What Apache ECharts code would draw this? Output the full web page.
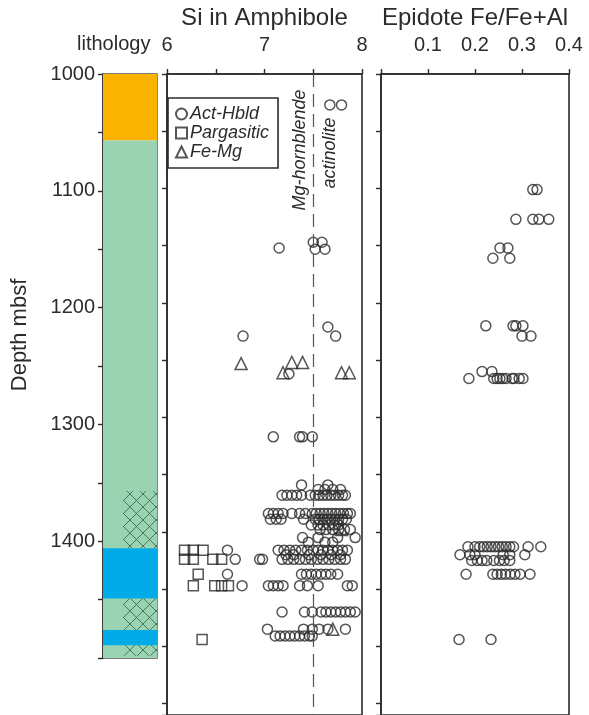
<!DOCTYPE html>
<html>
<head>
<meta charset="utf-8">
<script src="https://cdn.jsdelivr.net/npm/echarts@6/dist/echarts.min.js"></script>
<style>
  html, body { margin: 0; padding: 0; background: #fff; }
  #chart { width: 589px; height: 715px; }
</style>
</head>
<body>
<div id="chart"></div>
<script>
// ---- data ----
// lithology units (depth mbsf)
var lithTop  = [1000, 1057, 1357, 1449, 1406, 1476];
var lithBase = [1057, 1500, 1406, 1498, 1449, 1489];
var lithKind = ['orange', 'green', 'hatch', 'hatch', 'blue', 'blue'];

var depthTicks = [1000, 1100, 1200, 1300, 1400];
var siTicks = [6, 7, 8];
var epTicks = [0.1, 0.2, 0.3, 0.4];

// Si in amphibole [Si, depth]
var actHbld = [
  [7.67, 1027], [7.79, 1027],
  [7.15, 1152], [7.50, 1147], [7.59, 1147], [7.52, 1153], [7.62, 1153],
  [7.65, 1221], [6.78, 1229], [7.73, 1229],
  [7.25, 1262],
  [7.09, 1317], [7.36, 1317], [7.39, 1317], [7.49, 1317],
  [7.38, 1359], [7.65, 1359],
  [7.55, 1363], [7.62, 1363], [7.70, 1363], [7.78, 1363],
  [7.18, 1368], [7.23, 1368], [7.28, 1368], [7.33, 1368], [7.38, 1368], [7.47, 1368], [7.52, 1368],
  [7.56, 1368], [7.60, 1368], [7.64, 1368], [7.68, 1368], [7.72, 1368], [7.76, 1368], [7.80, 1368], [7.83, 1368],
  [7.04, 1384], [7.09, 1384], [7.14, 1384], [7.19, 1384], [7.28, 1384], [7.36, 1384], [7.42, 1384], [7.49, 1384],
  [7.53, 1384], [7.57, 1384], [7.61, 1384], [7.65, 1384], [7.69, 1384], [7.73, 1384], [7.77, 1384], [7.81, 1384],
  [7.85, 1384], [7.88, 1384],
  [7.06, 1389], [7.12, 1389], [7.17, 1389], [7.40, 1389], [7.52, 1389], [7.56, 1389], [7.60, 1389], [7.64, 1389],
  [7.68, 1389], [7.72, 1389], [7.76, 1389], [7.80, 1389], [7.84, 1389],
  [7.48, 1394], [7.55, 1394], [7.60, 1394], [7.66, 1394], [7.71, 1394], [7.76, 1394],
  [7.57, 1398], [7.63, 1398], [7.70, 1398], [7.76, 1398], [7.82, 1398], [7.88, 1398],
  [7.39, 1405], [7.55, 1405], [7.75, 1405], [7.93, 1405],
  [7.45, 1409], [7.62, 1409], [7.70, 1409],
  [6.62, 1416], [7.14, 1416], [7.20, 1416], [7.26, 1416], [7.32, 1416], [7.38, 1416], [7.44, 1416], [7.50, 1416],
  [7.55, 1416], [7.60, 1416], [7.65, 1416], [7.70, 1416], [7.75, 1416], [7.80, 1416], [7.85, 1416],
  [7.22, 1420], [7.30, 1420], [7.46, 1420], [7.58, 1420], [7.68, 1420], [7.78, 1420],
  [6.70, 1424], [6.95, 1424], [6.98, 1424], [7.18, 1424], [7.24, 1424], [7.30, 1424], [7.36, 1424], [7.42, 1424],
  [7.48, 1424], [7.54, 1424], [7.60, 1424], [7.66, 1424], [7.72, 1424], [7.78, 1424], [7.83, 1424],
  [6.62, 1437], [7.38, 1437], [7.43, 1437], [7.48, 1437], [7.53, 1437], [7.58, 1437], [7.63, 1437], [7.68, 1437], [7.75, 1437],
  [6.77, 1447], [7.04, 1447], [7.09, 1447], [7.14, 1447], [7.19, 1447], [7.36, 1447], [7.44, 1447], [7.55, 1447],
  [7.85, 1447], [7.90, 1447],
  [7.18, 1470], [7.41, 1470], [7.49, 1470], [7.58, 1470], [7.63, 1470], [7.68, 1470], [7.73, 1470], [7.78, 1470],
  [7.83, 1470], [7.88, 1470], [7.93, 1470],
  [7.03, 1485], [7.40, 1485], [7.49, 1485], [7.56, 1485], [7.65, 1485], [7.83, 1485],
  [7.11, 1491], [7.16, 1491], [7.21, 1491], [7.26, 1491], [7.31, 1491], [7.36, 1491], [7.41, 1491], [7.46, 1491], [7.49, 1491]
];
var pargasitic = [
  [6.18, 1416], [6.27, 1416], [6.37, 1416],
  [6.18, 1424], [6.27, 1424], [6.47, 1424], [6.56, 1424],
  [6.32, 1437],
  [6.27, 1447], [6.49, 1447], [6.56, 1447], [6.63, 1447],
  [6.36, 1494]
];
var feMg = [
  [6.76, 1253], [7.28, 1252], [7.39, 1252], [7.19, 1261], [7.79, 1261], [7.87, 1261],
  [7.79, 1398], [7.70, 1485]
];

// Epidote Fe/Fe+Al [ratio, depth]
var epidote = [
  [0.323, 1101], [0.332, 1101],
  [0.287, 1127], [0.323, 1127], [0.336, 1127], [0.357, 1127],
  [0.253, 1152], [0.270, 1152], [0.238, 1161], [0.274, 1161],
  [0.223, 1220], [0.281, 1220], [0.287, 1220], [0.302, 1220], [0.300, 1229], [0.319, 1229],
  [0.215, 1260], [0.236, 1260],
  [0.187, 1266], [0.240, 1266], [0.247, 1266], [0.253, 1266], [0.259, 1266], [0.266, 1266], [0.279, 1266],
  [0.283, 1266], [0.294, 1266], [0.302, 1266],
  [0.185, 1413], [0.200, 1413], [0.210, 1413], [0.218, 1413], [0.226, 1413], [0.234, 1413], [0.242, 1413],
  [0.250, 1413], [0.258, 1413], [0.266, 1413], [0.274, 1413], [0.282, 1413], [0.313, 1413], [0.340, 1413],
  [0.168, 1420], [0.189, 1420], [0.200, 1420], [0.260, 1420], [0.274, 1420], [0.306, 1420],
  [0.193, 1425], [0.205, 1425], [0.215, 1425], [0.225, 1425], [0.240, 1425], [0.252, 1425], [0.262, 1425], [0.274, 1425],
  [0.181, 1437], [0.238, 1437], [0.247, 1437], [0.256, 1437], [0.265, 1437], [0.275, 1437], [0.285, 1437],
  [0.296, 1437], [0.317, 1437],
  [0.166, 1494], [0.234, 1494]
];

// ---- styles ----
var FONT = 'Liberation Sans, Arial, sans-serif';
var INK = '#2b2b2b';
var lithColor = { orange: '#F9B300', green: '#9AD3B2', blue: '#00ABE8' };

// cross-hatch pattern drawn on a small canvas
function hatchPattern() {
  var c = document.createElement('canvas');
  c.width = 13; c.height = 13;
  var ctx = c.getContext('2d');
  ctx.fillStyle = lithColor.green;
  ctx.fillRect(0, 0, 13, 13);
  ctx.strokeStyle = '#3f6d52';
  ctx.lineWidth = 0.9;
  ctx.beginPath();
  ctx.moveTo(0, 0); ctx.lineTo(13, 13);
  ctx.moveTo(13, 0); ctx.lineTo(0, 13);
  ctx.stroke();
  return { image: c, repeat: 'repeat' };
}
var hatch = hatchPattern();

var lithData = lithTop.map(function (t, i) {
  return [lithKind[i] === 'hatch' ? 0.37 : 0, 1, t, lithBase[i], i];
});

function renderLith(params, api) {
  var kind = lithKind[api.value(4)];
  var p0 = api.coord([api.value(0), api.value(2)]);
  var p1 = api.coord([api.value(1), api.value(3)]);
  return {
    type: 'rect',
    shape: { x: p0[0], y: p0[1], width: p1[0] - p0[0], height: p1[1] - p0[1] },
    style: { fill: kind === 'hatch' ? hatch : lithColor[kind] }
  };
}

var hollow = { color: 'rgba(255,255,255,0)', borderColor: INK, borderWidth: 1.5 };

var depthAxisCommon = {
  type: 'value',
  inverse: true,
  min: 1000,
  interval: 50,
  splitLine: { show: false },
  axisLine: { show: true, lineStyle: { color: INK, width: 1.6 } },
  axisTick: { show: true, length: 5, lineStyle: { color: INK, width: 1.4 } }
};

var topAxisCommon = {
  type: 'value', position: 'top', nameLocation: 'middle', nameGap: 44,
  nameTextStyle: { fontSize: 24, color: INK, fontFamily: FONT },
  splitLine: { show: false },
  axisLine: { lineStyle: { color: INK, width: 1.6 } },
  axisTick: { length: 5, lineStyle: { color: INK, width: 1.4 } }
};

var chart = echarts.init(document.getElementById('chart'), null, { renderer: 'canvas' });

var option = {
  backgroundColor: '#fff',
  animation: false,
  textStyle: { fontFamily: FONT, color: INK },
  grid: [
    { left: 103, top: 74, width: 54, height: 584, show: true, borderColor: '#555', borderWidth: 1.4, backgroundColor: 'transparent' },
    { left: 167, top: 74, width: 195, height: 654, show: true, borderColor: INK, borderWidth: 1.6 },
    { left: 381, top: 74, width: 188, height: 654, show: true, borderColor: INK, borderWidth: 1.6 }
  ],
  xAxis: [
    { gridIndex: 0, type: 'value', min: 0, max: 1, show: false },
    Object.assign({}, topAxisCommon, {
      gridIndex: 1, min: 6, max: 8, interval: 0.5, name: 'Si in Amphibole',
      axisLabel: {
        fontSize: 20, color: INK, margin: 19,
        formatter: function (v) { return siTicks.indexOf(v) >= 0 ? String(v) : ''; }
      }
    }),
    Object.assign({}, topAxisCommon, {
      gridIndex: 2, min: 0, max: 0.4, interval: 0.1, name: 'Epidote Fe/Fe+Al',
      axisLabel: {
        fontSize: 20, color: INK, margin: 19,
        formatter: function (v) {
          var t = Math.round(v * 10) / 10;
          return epTicks.indexOf(t) >= 0 ? t.toFixed(1) : '';
        }
      }
    })
  ],
  yAxis: [
    Object.assign({}, depthAxisCommon, {
      gridIndex: 0, max: 1500,
      axisLabel: {
        fontSize: 20, color: INK, margin: 8,
        formatter: function (v) { return depthTicks.indexOf(v) >= 0 ? String(v) : ''; }
      }
    }),
    Object.assign({}, depthAxisCommon, { gridIndex: 1, max: 1560, axisLabel: { show: false } }),
    Object.assign({}, depthAxisCommon, { gridIndex: 2, max: 1560, axisLabel: { show: false } })
  ],
  legend: {
    data: ['Act-Hbld', 'Pargasitic', 'Fe-Mg'],
    orient: 'vertical',
    left: 168, top: 98,
    padding: [7, 9, 7, 7],
    itemGap: 1,
    itemWidth: 11, itemHeight: 11,
    borderColor: INK, borderWidth: 1.6, borderRadius: 0,
    backgroundColor: '#fff',
    textStyle: { fontSize: 18, fontStyle: 'italic', color: INK, fontFamily: FONT, padding: [0, 0, 0, -2] }
  },
  graphic: [
    { type: 'text', left: 77, top: 34, style: { text: 'lithology', font: '20px ' + FONT, fill: INK } },
    { type: 'text', x: 20, y: 335, rotation: Math.PI / 2,
      style: { text: 'Depth mbsf', font: '22px ' + FONT, fill: INK, align: 'center', verticalAlign: 'middle' } },
    { type: 'text', x: 300, y: 150, rotation: Math.PI / 2, z: 10,
      style: { text: 'Mg-hornblende', font: 'italic 18px ' + FONT, fill: INK, align: 'center', verticalAlign: 'middle' } },
    { type: 'text', x: 330, y: 153, rotation: Math.PI / 2, z: 10,
      style: { text: 'actinolite', font: 'italic 18px ' + FONT, fill: INK, align: 'center', verticalAlign: 'middle' } }
  ],
  series: [
    {
      name: 'lithology', type: 'custom', xAxisIndex: 0, yAxisIndex: 0,
      renderItem: renderLith, data: lithData, silent: true
    },
    {
      name: 'Act-Hbld', type: 'scatter', xAxisIndex: 1, yAxisIndex: 1,
      symbol: 'circle', symbolSize: 10, itemStyle: hollow, data: actHbld,
      markLine: {
        silent: true, symbol: 'none', label: { show: false },
        lineStyle: { color: '#555', width: 1.2, type: [13, 7] },
        data: [{ xAxis: 7.5 }]
      }
    },
    {
      name: 'Pargasitic', type: 'scatter', xAxisIndex: 1, yAxisIndex: 1,
      symbol: 'rect', symbolSize: 10, itemStyle: hollow, data: pargasitic
    },
    {
      name: 'Fe-Mg', type: 'scatter', xAxisIndex: 1, yAxisIndex: 1,
      symbol: 'triangle', symbolSize: 12, itemStyle: hollow, data: feMg
    },
    {
      name: 'Epidote', type: 'scatter', xAxisIndex: 2, yAxisIndex: 2,
      symbol: 'circle', symbolSize: 10, itemStyle: hollow, data: epidote
    }
  ]
};

chart.setOption(option);
window.addEventListener('resize', function () { chart.resize(); });
</script>
</body>
</html>
